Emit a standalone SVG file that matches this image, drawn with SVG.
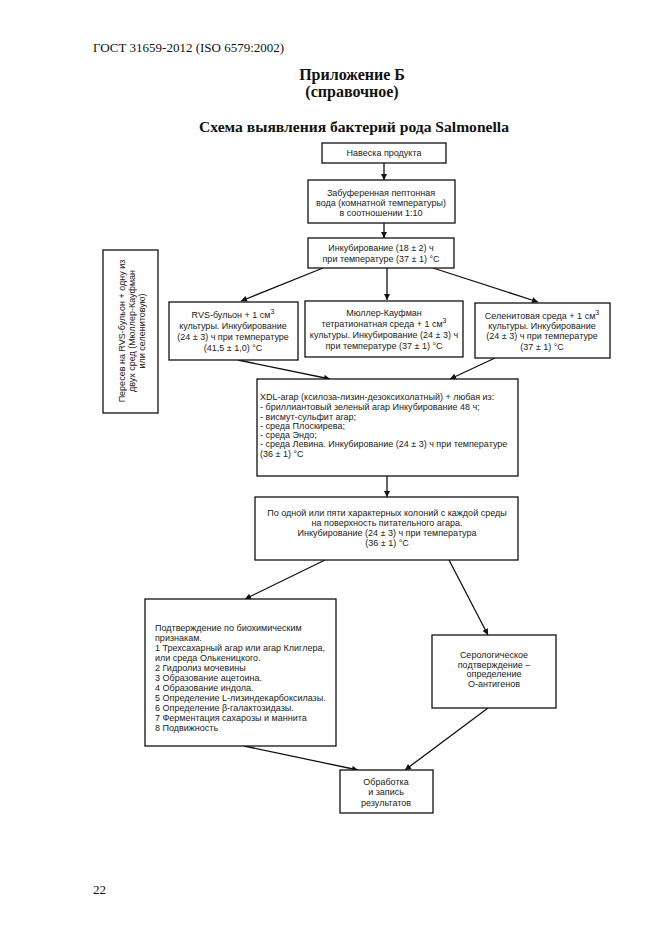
<svg xmlns="http://www.w3.org/2000/svg" width="661" height="936" viewBox="0 0 661 936">
<style>
.hdr{font-family:"Liberation Serif","Times New Roman",serif;fill:#111}
.b{font-weight:bold}
.box{fill:#fff;stroke:#111;stroke-width:1.3}
.t{font-family:"Liberation Sans",Arial,sans-serif;font-size:9px;fill:#222}
.c{text-anchor:middle}
.ln{stroke:#111;stroke-width:1.3;fill:none;marker-end:url(#ah)}
</style>
<defs>
<marker id="ah" viewBox="0 0 10 10" refX="10" refY="5" markerWidth="7" markerHeight="6" markerUnits="userSpaceOnUse" orient="auto">
<path d="M0,0 L10,5 L0,10 z" fill="#111"/>
</marker>
</defs>
<rect width="661" height="936" fill="#fff"/>
<g id="header">
<text class="hdr" x="93" y="52" font-size="13">ГОСТ 31659-2012 (ISO 6579:2002)</text>
<text class="hdr b" x="352" y="80" font-size="16" text-anchor="middle">Приложение Б</text>
<text class="hdr b" x="352" y="97" font-size="16" text-anchor="middle">(справочное)</text>
<text class="hdr b" x="354" y="132" font-size="15.6" text-anchor="middle">Схема выявления бактерий рода Salmonella</text>
<text class="hdr" x="93" y="894" font-size="13">22</text>
</g>
<g id="connectors">
<line class="ln" x1="384" y1="163" x2="384" y2="180"/>
<line class="ln" x1="384" y1="223" x2="384" y2="238"/>
<line class="ln" x1="323" y1="268" x2="241" y2="301"/>
<line class="ln" x1="387" y1="268" x2="387" y2="300"/>
<line class="ln" x1="433" y1="268" x2="538" y2="302"/>
<line class="ln" x1="238" y1="360" x2="330" y2="379"/>
<line class="ln" x1="495" y1="358" x2="450" y2="379"/>
<line class="ln" x1="387" y1="476" x2="387" y2="497"/>
<line class="ln" x1="325" y1="560" x2="245" y2="599"/>
<line class="ln" x1="449" y1="560" x2="488" y2="635"/>
<line class="ln" x1="244" y1="746" x2="358" y2="770"/>
<line class="ln" x1="488" y1="708" x2="405" y2="770"/>
</g>
<g id="n1">
<rect class="box" x="322" y="143" width="124" height="20"/>
<text class="t c" x="384" y="156">Навеска продукта</text>
</g>
<g id="n2">
<rect class="box" x="308" y="180" width="147" height="43"/>
<text class="t c" x="381" y="196">Забуференная пептонная</text>
<text class="t c" x="381" y="206">вода (комнатной температуры)</text>
<text class="t c" x="381" y="216">в соотношении 1:10</text>
</g>
<g id="n3">
<rect class="box" x="308" y="238" width="146" height="30"/>
<text class="t c" x="381" y="251">Инкубирование (18 ± 2) ч</text>
<text class="t c" x="381" y="262">при температуре (37 ± 1) °С</text>
</g>
<g id="side">
<rect class="box" x="103" y="250" width="55" height="163"/>
<g transform="translate(132,331) rotate(-90)">
<text class="t c" x="0" y="-7" font-size="8.5">Пересев на RVS-бульон + одну из</text>
<text class="t c" x="0" y="3" font-size="8.5">двух сред (Мюллер-Кауфман</text>
<text class="t c" x="0" y="13" font-size="8.5">или селенитовую)</text>
</g>
</g>
<g id="rvs">
<rect class="box" x="169" y="302" width="129" height="58"/>
<text class="t c" x="233" y="318">RVS-бульон + 1 см<tspan dy="-4" font-size="7">3</tspan></text>
<text class="t c" x="233" y="329">культуры. Инкубирование</text>
<text class="t c" x="233" y="340">(24 ± 3) ч при температуре</text>
<text class="t c" x="233" y="351">(41,5 ± 1,0) °С</text>
</g>
<g id="mk">
<rect class="box" x="305" y="301" width="158" height="56"/>
<text class="t c" x="384" y="316">Мюллер-Кауфман</text>
<text class="t c" x="384" y="327">тетратионатная среда + 1 см<tspan dy="-4" font-size="7">3</tspan></text>
<text class="t c" x="384" y="338">культуры. Инкубирование  (24 ± 3) ч</text>
<text class="t c" x="384" y="349">при температуре (37 ± 1) °С</text>
</g>
<g id="sel">
<rect class="box" x="475" y="303" width="135" height="55"/>
<text class="t c" x="542" y="319">Селенитовая среда + 1 см<tspan dy="-4" font-size="7">3</tspan></text>
<text class="t c" x="542" y="329">культуры. Инкубирование</text>
<text class="t c" x="542" y="339">(24 ± 3) ч при температуре</text>
<text class="t c" x="542" y="350">(37 ± 1) °С</text>
</g>
<g id="xdl">
<rect class="box" x="257" y="379" width="261" height="97"/>
<text class="t" x="260" y="400">XDL-агар (ксилоза-лизин-дезоксихолатный) + любая из:</text>
<text class="t" x="260" y="410">- бриллиантовый зеленый агар  Инкубирование 48 ч;</text>
<text class="t" x="260" y="420">- висмут-сульфит агар;</text>
<text class="t" x="260" y="429">- среда Плоскирева;</text>
<text class="t" x="260" y="438">- среда Эндо;</text>
<text class="t" x="260" y="447">- среда Левина. Инкубирование (24 ± 3) ч при температуре</text>
<text class="t" x="260" y="457">(36 ± 1) °С</text>
</g>
<g id="col">
<rect class="box" x="255" y="497" width="263" height="63"/>
<text class="t c" x="387" y="516">По одной или пяти характерных колоний с каждой среды</text>
<text class="t c" x="387" y="526">на поверхность питательного агара.</text>
<text class="t c" x="387" y="536">Инкубирование (24 ± 3) ч при  температура</text>
<text class="t c" x="387" y="546">(36 ± 1) °С</text>
</g>
<g id="bio">
<rect class="box" x="145" y="599" width="191" height="147"/>
<text class="t" x="155" y="631">Подтверждение по биохимическим</text>
<text class="t" x="155" y="641">признакам.</text>
<text class="t" x="155" y="651">1 Трехсахарный агар или агар Клиглера,</text>
<text class="t" x="155" y="661">или среда Олькеницкого.</text>
<text class="t" x="155" y="671">2 Гидролиз мочевины</text>
<text class="t" x="155" y="681">3 Образование ацетоина.</text>
<text class="t" x="155" y="691">4 Образование индола.</text>
<text class="t" x="155" y="701">5 Определение L-лизиндекарбоксилазы.</text>
<text class="t" x="155" y="711">6 Определение β-галактозидазы.</text>
<text class="t" x="155" y="721">7 Ферментация сахарозы и маннита</text>
<text class="t" x="155" y="731">8 Подвижность</text>
</g>
<g id="ser">
<rect class="box" x="432" y="635" width="124" height="73"/>
<text class="t c" x="494" y="658">Серологическое</text>
<text class="t c" x="494" y="668">подтверждение –</text>
<text class="t c" x="494" y="677">определение</text>
<text class="t c" x="494" y="687">О-антигенов</text>
</g>
<g id="res">
<rect class="box" x="340" y="770" width="93" height="43"/>
<text class="t c" x="386" y="785">Обработка</text>
<text class="t c" x="386" y="795">и запись</text>
<text class="t c" x="386" y="806">результатов</text>
</g>
</svg>
